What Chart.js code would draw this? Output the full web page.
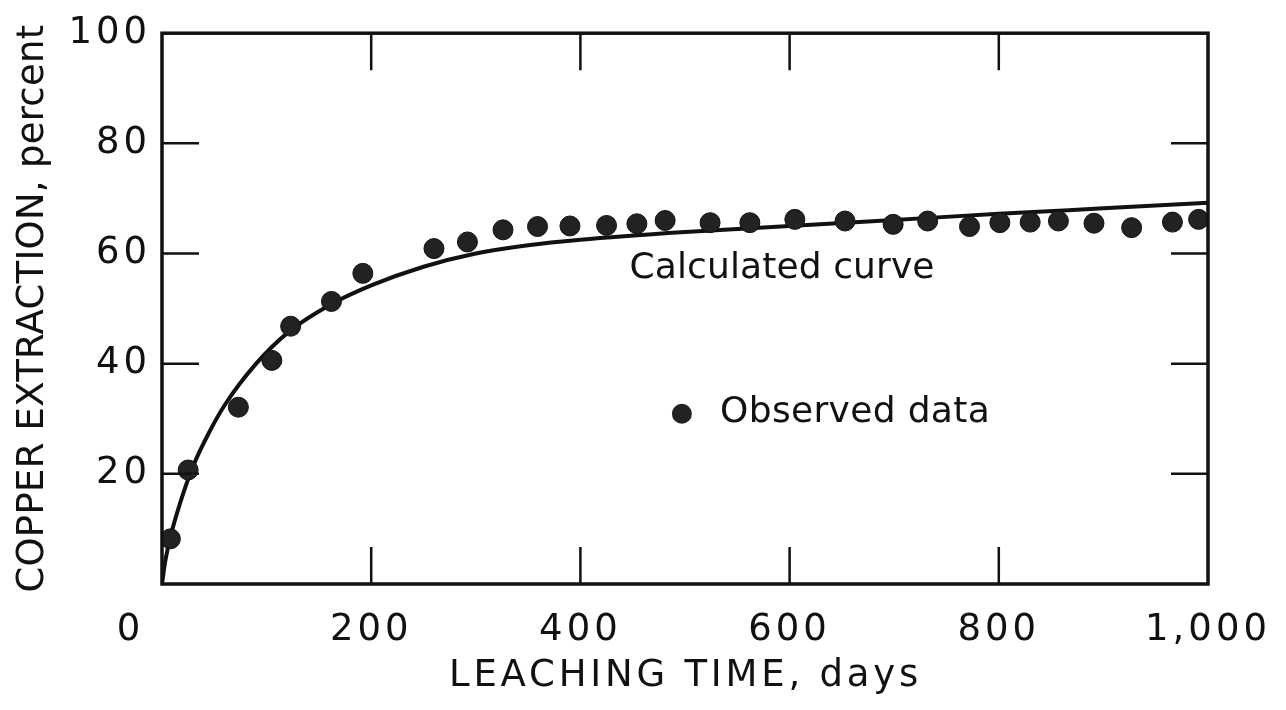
<!DOCTYPE html>
<html>
<head>
<meta charset="utf-8">
<script src="https://cdn.jsdelivr.net/npm/chart.js@4.4.0/dist/chart.umd.min.js"></script>
<style>
  html, body { margin: 0; padding: 0; background: #fff; }
</style>
</head>
<body>
<canvas id="leachChart" width="1286" height="710"></canvas>
<script>
// observed copper extraction
var observedDays = [8, 25, 73, 105, 123, 162, 192, 260, 292, 326, 359, 390, 425, 454, 481, 524, 562, 605, 653, 699, 732, 772, 801, 830, 857, 891, 927, 966, 991];
var observedPct = [8.2, 20.7, 32.1, 40.6, 46.8, 51.3, 56.4, 60.9, 62.1, 64.3, 64.9, 65.0, 65.1, 65.4, 66.0, 65.6, 65.6, 66.2, 65.9, 65.3, 65.9, 64.9, 65.6, 65.7, 65.9, 65.5, 64.7, 65.7, 66.2];

// calculated curve, traced
var curveDays = [0, 3, 8, 17, 30, 45, 60, 90, 120, 160, 200, 250, 300, 350, 400, 500, 600, 700, 800, 900, 1000];
var curvePct = [0, 4, 8.5, 14.5, 21.5, 27.5, 32.5, 40, 45.6, 50.6, 54.2, 57.6, 60, 61.5, 62.5, 63.9, 65.0, 66.1, 67.2, 68.2, 69.2];

var xTicks = [0, 200, 400, 600, 800, 1000];
var yTicks = [0, 20, 40, 60, 80, 100];

var FONT = '"DejaVu Sans", sans-serif';
var INK = '#111';

var observedPoints = observedDays.map((d, i) => ({ x: d, y: observedPct[i] }));
var curvePoints = curveDays.map((d, i) => ({ x: d, y: curvePct[i] }));

// draws text stretched to a given width using letter spacing
function spacedText(ctx, text, x, y, width) {
    ctx.letterSpacing = '0px';
    var w = ctx.measureText(text).width;
    var sp = (width - w) / text.length;
    ctx.letterSpacing = sp + 'px';
    ctx.textAlign = 'left';
    ctx.fillText(text, x, y);
}

var frameAndNotes = {
    id: 'frameAndNotes',
    beforeDraw(chart) {
        chart.ctx.letterSpacing = '4px';
    },
    afterDatasetsDraw(chart) {
        var ctx = chart.ctx;
        var a = chart.chartArea;
        var xs = chart.scales.x, ys = chart.scales.y;
        var tl = 37;
        ctx.save();
        ctx.strokeStyle = INK;
        ctx.lineWidth = 2.5;
        ctx.beginPath();
        xTicks.forEach(v => {
            if (v === 0 || v === 1000) return;
            var px = xs.getPixelForValue(v);
            ctx.moveTo(px, a.bottom); ctx.lineTo(px, a.bottom - tl);
            ctx.moveTo(px, a.top); ctx.lineTo(px, a.top + tl);
        });
        yTicks.forEach(v => {
            if (v === 0 || v === 100) return;
            var py = ys.getPixelForValue(v);
            ctx.moveTo(a.left, py); ctx.lineTo(a.left + tl, py);
            ctx.moveTo(a.right, py); ctx.lineTo(a.right - tl, py);
        });
        ctx.stroke();
        ctx.lineWidth = 3.5;
        ctx.strokeRect(a.left, a.top, a.right - a.left, a.bottom - a.top);
        ctx.restore();
    },
    afterDraw(chart) {
        var ctx = chart.ctx;
        var a = chart.chartArea;
        var xs = chart.scales.x, ys = chart.scales.y;
        ctx.save();
        ctx.fillStyle = INK;
        ctx.font = '36px ' + FONT;
        ctx.textBaseline = 'middle';

        spacedText(ctx, 'Calculated curve', xs.getPixelForValue(447), ys.getPixelForValue(57.2), 305);

        ctx.beginPath();
        ctx.fillStyle = '#222';
        ctx.arc(xs.getPixelForValue(497), ys.getPixelForValue(30.9), 10, 0, Math.PI * 2);
        ctx.fill();
        ctx.fillStyle = INK;
        spacedText(ctx, 'Observed data', xs.getPixelForValue(533.5), ys.getPixelForValue(31.2), 270);

        // axis titles
        ctx.font = '37px ' + FONT;
        var cx = (a.left + a.right) / 2;
        spacedText(ctx, 'LEACHING TIME, days', cx - 236, 676, 473);

        ctx.translate(33, (a.top + a.bottom) / 2);
        ctx.rotate(-Math.PI / 2);
        spacedText(ctx, 'COPPER EXTRACTION, percent', -284, 0, 568);
        ctx.restore();
    }
};

var leachChart = new Chart(document.getElementById('leachChart').getContext('2d'), {
    type: 'scatter',
    data: {
        datasets: [{
            label: 'Observed data',
            data: observedPoints,
            pointRadius: 10,
            pointBackgroundColor: '#222',
            pointBorderColor: '#111',
            pointBorderWidth: 1,
            showLine: false
        }, {
            label: 'Calculated curve',
            data: curvePoints,
            showLine: true,
            borderColor: INK,
            borderWidth: 4,
            pointRadius: 0,
            cubicInterpolationMode: 'monotone'
        }]
    },
    options: {
        responsive: false,
        animation: false,
        layout: { padding: { left: 0, top: 33, right: 78, bottom: 0 } },
        plugins: {
            legend: { display: false },
            tooltip: { enabled: false }
        },
        scales: {
            x: {
                type: 'linear',
                min: 0,
                max: 1000,
                afterBuildTicks: s => { s.ticks = xTicks.map(v => ({ value: v })); },
                afterFit: s => { s.height = 126; },
                grid: { display: false, drawTicks: false },
                border: { display: false },
                ticks: {
                    color: INK,
                    padding: 24,
                    maxRotation: 0,
                    font: { family: FONT, size: 37 },
                    callback: v => v === 0 ? '0    ' : (v === 1000 ? '1,000' : String(v))
                }
            },
            y: {
                min: 0,
                max: 100,
                afterBuildTicks: s => { s.ticks = yTicks.map(v => ({ value: v })); },
                afterFit: s => { s.width = 162; },
                grid: { display: false, drawTicks: false },
                border: { display: false },
                ticks: {
                    color: INK,
                    padding: 11,
                    font: { family: FONT, size: 37 },
                    callback: v => v === 0 ? '' : String(v)
                }
            }
        }
    },
    plugins: [frameAndNotes]
});
</script>
</body>
</html>
